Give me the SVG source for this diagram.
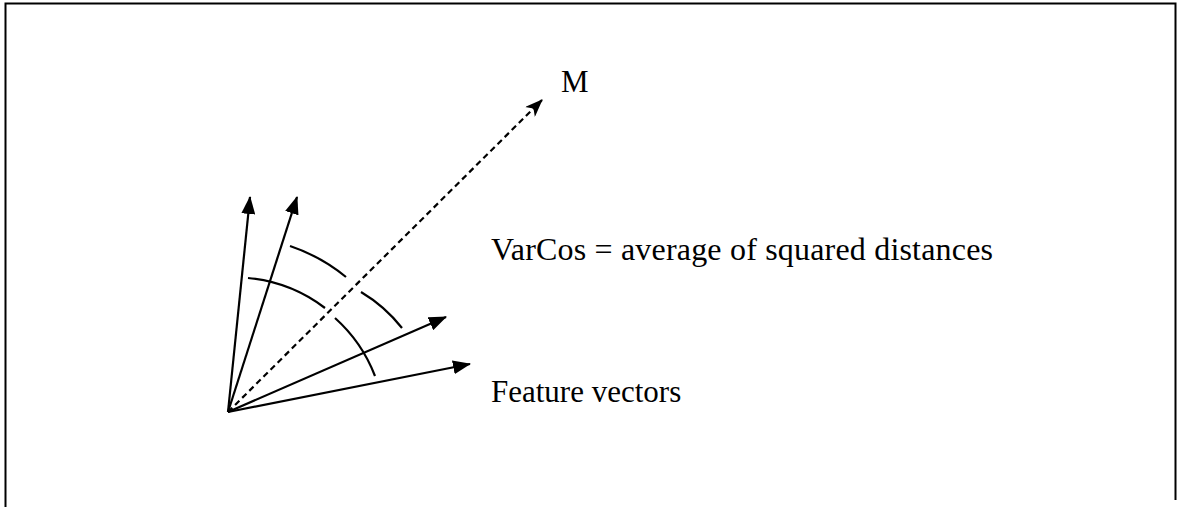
<svg xmlns="http://www.w3.org/2000/svg" width="1177" height="507" viewBox="0 0 1177 507">
<style>
.frame{stroke:#000;stroke-width:2;fill:none}
.vec{stroke:#000;stroke-width:2.2;fill:none}
.dash{stroke:#000;stroke-width:2.2;fill:none;stroke-dasharray:6 4}
.arc{stroke:#000;stroke-width:2.2;fill:none}
.lbl{font-family:"Liberation Serif","Times New Roman",serif;font-size:31px;fill:#000}
</style>
<defs>
<marker id="ah" markerWidth="18" markerHeight="14" refX="17" refY="7" orient="auto" markerUnits="userSpaceOnUse">
<path d="M0,0 L18,7 L0,14 Z" fill="#000"/>
</marker>
<marker id="ahd" markerWidth="18" markerHeight="14" refX="17" refY="7" orient="auto" markerUnits="userSpaceOnUse">
<path d="M0,0 L18,7 L0,14 L5,7 Z" fill="#000"/>
</marker>
</defs>
<rect width="1177" height="507" fill="#fff"/>
<g id="frame">
<path class="frame" d="M5.5,507 V3.5 H1175.5 V500"/>
</g>
<g id="connectors">
<line class="vec" x1="228" y1="412" x2="250" y2="197" marker-end="url(#ah)"/>
<line class="vec" x1="228" y1="412" x2="297" y2="197" marker-end="url(#ah)"/>
<line class="vec" x1="228" y1="412" x2="446" y2="317" marker-end="url(#ah)"/>
<line class="vec" x1="228" y1="412" x2="470" y2="364" marker-end="url(#ah)"/>
<line class="dash" x1="228" y1="412" x2="542" y2="100" marker-end="url(#ahd)"/>
</g>
<g id="arcs">
<path class="arc" d="M290,246 A178 178 0 0 1 346,277"/>
<path class="arc" d="M248,278 A150 150 0 0 1 325,308"/>
<path class="arc" d="M361,292 A150 150 0 0 1 402,328"/>
<path class="arc" d="M335,318 A150 150 0 0 1 375,376"/>
</g>
<g id="label-m"><text class="lbl" x="561" y="92">M</text></g>
<g id="label-varcos"><text class="lbl" x="491" y="260" style="font-size:32px" textLength="502" lengthAdjust="spacing">VarCos = average of squared distances</text></g>
<g id="label-features"><text class="lbl" x="491" y="402">Feature vectors</text></g>
</svg>
